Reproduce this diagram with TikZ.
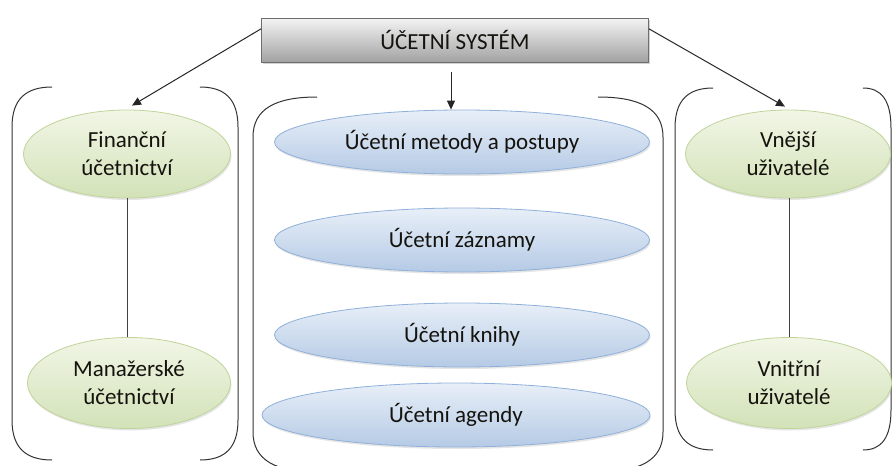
\documentclass[tikz,border=0pt]{standalone}
\usepackage{fontspec}
\setmainfont{Carlito}
\usetikzlibrary{shapes.geometric,shadows,arrows.meta,calc}
\definecolor{txt}{HTML}{15130E}
\definecolor{gborder}{HTML}{BFD49A}
\definecolor{gtop}{HTML}{F1F6E6}
\definecolor{gbot}{HTML}{D3E2B8}
\definecolor{bborder}{HTML}{8FB0DA}
\definecolor{btop}{HTML}{E8EFF8}
\definecolor{bbot}{HTML}{B5CAE5}
\definecolor{sborder}{HTML}{6E6E6E}
\definecolor{stop}{HTML}{F4F4F4}
\definecolor{sbot}{HTML}{A2A2A2}
\newcommand\myParen[4]{% #1 end x, #2 vertical x, #3 top y, #4 bottom y
  \draw[brk] (#1,#3) .. controls ({#2+0.35*(#1-#2)},#3) and (#2,{#3-12}) .. (#2,{#3-40})
    -- (#2,{#4+40}) .. controls (#2,{#4+12}) and ({#2+0.35*(#1-#2)},#4) .. (#1,#4);}
\begin{document}
\begin{tikzpicture}[x=1pt,y=1pt,
  every node/.style={font=\fontsize{23}{28}\selectfont, text=txt},
  sysbox/.style={rectangle, draw=sborder, line width=0.8pt, top color=stop, bottom color=sbot,
    minimum width=387, minimum height=44, inner sep=0,
    drop shadow={shadow xshift=1.5pt, shadow yshift=-2pt, opacity=0.35}},
  greenell/.style={ellipse, draw=gborder, line width=0.8pt, top color=gtop, bottom color=gbot,
    minimum width=207, minimum height=88, inner sep=0, align=center,
    drop shadow={shadow xshift=1pt, shadow yshift=-2pt, opacity=0.2}},
  blueell/.style={ellipse, draw=bborder, line width=0.8pt, top color=btop, bottom color=bbot,
    minimum width=375, minimum height=64, inner sep=0,
    drop shadow={shadow xshift=1pt, shadow yshift=-2pt, opacity=0.2}},
  brk/.style={draw=black!80, line width=1pt},
  conn/.style={draw=black!75, line width=0.9pt},
  arr/.style={draw=black!85, line width=1pt, -{Triangle[length=9pt,width=8pt]}}
]
\useasboundingbox (0,0) rectangle (892,-466);
\fill[white] (0,0) rectangle (892,-466);

% brackets
\myParen{52}{12}{-87}{-460}
\myParen{200}{238}{-87}{-460}
\myParen{317}{253}{-97}{-472}
\myParen{598}{663}{-97}{-472}
\myParen{713}{675}{-88}{-450}
\myParen{863}{891}{-88}{-450}

% nodes
\node[sysbox] (sys) at (455,-40) {ÚČETNÍ SYSTÉM};

\node[greenell] (fin) at (127,-154) {Finanční\\účetnictví};
\node[greenell, minimum width=203, minimum height=91] (man) at (129,-383) {Manažerské\\účetnictví};
\node[greenell, minimum width=205] (vne) at (788,-154) {Vnější\\uživatelé};
\node[greenell, minimum width=205, minimum height=91] (vni) at (789,-383) {Vnitřní\\uživatelé};

\node[blueell] (m1) at (462,-142) {Účetní metody a postupy};
\node[blueell] (m2) at (462,-240) {Účetní záznamy};
\node[blueell] (m3) at (462,-335) {Účetní knihy};
\node[blueell, minimum width=388] (m4) at (456,-415) {Účetní agendy};

% connectors
\draw[conn] (fin.south) -- (fin.south |- man.north);
\draw[conn] (vni.north) -- (vni.north |- vne.south);

\coordinate (c0) at (451,-72);
\draw[arr] ($(sys.west)!0.5!(sys.north west)$) -- ($(fin.north)+(5,4)$);
\draw[arr] ($(sys.east)!0.5!(sys.north east)$) -- ($(vne.north)+(-3,3)$);
\draw[arr] (c0) -- (c0 |- m1.north);
\end{tikzpicture}
\end{document}
